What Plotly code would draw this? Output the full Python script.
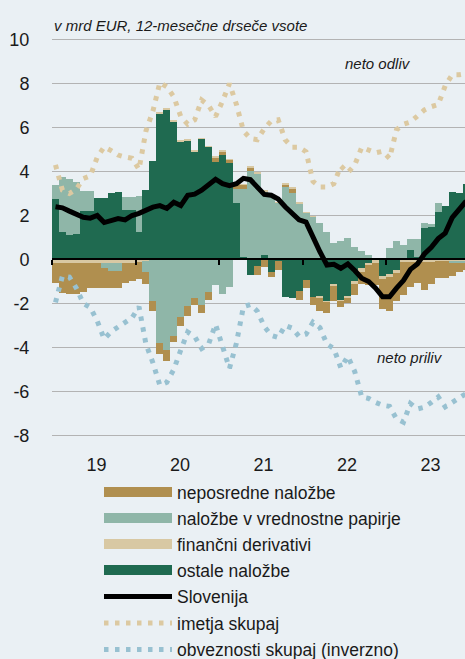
import plotly.graph_objects as go

# ---------------- data (12-month rolling sums, bn EUR) ----------------
months = [f"{y}-{m:02d}" for y in range(2019, 2024) for m in range(1, 13)]
year_labels = ["19", "20", "21", "22", "23"]
year_mid_idx = [5.9, 17.9, 29.9, 41.9, 53.9]
year_edge_idx = [-0.5, 11.5, 23.5, 35.5, 47.5]
y_ticks = [-8, -6, -4, -2, 0, 2, 4, 6, 8, 10]

direct = [-0.90, -1.33, -1.37, -1.40, -1.29, -1.13, -1.10, -0.90, -0.78, -0.78, -0.90, -0.81,
          -0.75, -0.55, -0.45, -0.50, -0.50, -0.25, -0.43, -0.46, -0.31, -0.40, -0.34, 0.23,
          0.12, 0.15, 0.20, 0.20, 0.15, -0.40, -0.32, -0.25, -0.38, 0.08, 0.20, -0.38,
          -0.35, -0.38, -0.60, -0.50, -0.70, -0.25, -0.25, -0.50, -0.55, -0.90, -1.00, -1.40,
          -1.55, -1.30, -1.50, -1.15, -0.95, -1.30, -1.00, -0.75, -0.75, -0.60, -0.40, -0.32]
portfolio = [0.68, 2.50, 2.53, 2.40, 0.93, 0.93, 0.00, -0.20, -0.35, -0.35, 0.60, 0.60,
             1.60, -0.50, -1.90, -3.80, -4.10, -3.50, -2.60, -2.12, -1.74, -2.05, -1.48, -1.16,
             -1.55, -1.25, 0.62, 3.10, 4.04, 3.92, 2.88, 2.89, 2.58, 3.34, 3.04, 2.55,
             2.13, 1.95, 1.67, 1.27, 0.77, 0.84, 0.96, 0.55, 0.40, 0.20, 0.05, 0.00,
             0.53, 0.83, 0.68, 0.50, 0.85, 0.23, 0.10, 0.43, 0.00, -0.10, -0.10, -0.10]
derivatives = [-0.18, -0.18, -0.18, -0.18, -0.18, -0.18, -0.18, -0.18, -0.18, -0.18, -0.15, -0.15,
               -0.12, -0.05, 0.00, 0.06, 0.04, 0.03, 0.03, 0.03, 0.03, 0.04, 0.04, 0.05,
               0.06, 0.03, 0.03, 0.02, 0.02, 0.02, 0.02, 0.02, 0.02, 0.03, 0.02, 0.02,
               0.02, 0.02, -0.05, -0.05, -0.10, -0.05, -0.05, -0.10, -0.15, -0.10, -0.15, -0.12,
               -0.12, -0.10, -0.12, -0.10, -0.10, -0.10, -0.10, -0.08, -0.08, -0.06, -0.06, -0.06]
other = [2.73, 1.25, 1.12, 1.14, 2.20, 2.20, 2.78, 2.78, 3.02, 3.05, 2.25, 2.25,
         1.27, 3.18, 4.50, 6.62, 6.82, 6.29, 5.38, 5.41, 4.92, 5.48, 5.12, 4.42,
         4.77, 4.39, 2.57, 0.10, -0.70, -0.30, 0.22, -0.55, -0.08, -1.70, -1.75, -1.45,
         -0.94, -1.70, -1.70, -1.90, -1.10, -1.85, -1.70, -1.00, -0.40, -0.15, 0.00, -0.75,
         -0.68, -0.50, 0.00, 0.43, 0.10, 1.44, 1.50, 2.15, 2.42, 3.08, 3.03, 3.45]
slovenia = [2.40, 2.35, 2.20, 2.05, 1.92, 1.88, 2.00, 1.68, 1.78, 1.86, 1.80, 2.00,
            2.10, 2.24, 2.38, 2.45, 2.32, 2.60, 2.45, 2.92, 2.97, 3.15, 3.38, 3.65,
            3.45, 3.36, 3.45, 3.69, 3.63, 3.30, 2.96, 2.92, 2.75, 2.40, 2.10, 1.80,
            1.70, 1.00, 0.35, -0.25, -0.22, -0.40, -0.20, -0.50, -0.85, -1.00, -1.30, -1.70,
            -1.70, -1.30, -0.95, -0.45, -0.20, 0.25, 0.55, 0.95, 1.20, 1.90, 2.30, 2.65]
assets = [4.30, 3.15, 3.00, 3.20, 3.68, 3.80, 4.65, 5.12, 4.95, 4.75, 4.66, 4.60,
          4.10, 5.85, 6.75, 8.05, 7.85, 7.40, 6.50, 6.15, 6.35, 7.25, 7.00, 6.50,
          7.20, 8.00, 7.05, 5.85, 5.50, 5.45, 5.95, 6.30, 6.35, 5.45, 5.10, 5.10,
          4.90, 3.55, 3.30, 3.30, 3.45, 4.25, 3.95, 4.30, 5.10, 5.00, 4.85, 4.92,
          4.60, 5.90, 6.15, 6.25, 6.50, 6.80, 6.95, 7.05, 7.90, 8.40, 8.40, 8.45]
liabilities_inv = [-1.95, -0.75, -0.80, -1.30, -2.00, -2.18, -2.80, -3.62, -3.28, -3.05, -2.85, -2.65,
                   -2.15, -3.85, -4.70, -5.72, -5.58, -5.00, -4.12, -3.30, -3.50, -4.05, -3.85, -2.95,
                   -3.95, -4.95, -3.80, -2.15, -2.05, -2.35, -3.05, -3.45, -3.55, -3.00, -3.12, -3.50,
                   -3.40, -2.85, -3.10, -3.85, -4.05, -4.93, -4.40, -5.10, -6.25, -6.32, -6.50, -6.63,
                   -6.68, -7.25, -7.40, -6.55, -6.80, -6.72, -6.50, -6.25, -6.70, -6.50, -6.25, -6.10]

# ---------------- style ----------------
BG = "#EAF0F4"
C_DIRECT = "#B08F4F"
C_PORT = "#8FB6A8"
C_DERIV = "#D8C8A3"
C_OTHER = "#1F6A50"
C_ASSETS = "#DCC9A1"
C_LIAB = "#98C1D1"
FONT = "Liberation Sans, Arial, sans-serif"
TXT = "#1a1a1a"

x = list(range(len(months)))
Y_MIN, Y_MAX = -8.3, 10.3
X_RANGE = [-0.5, 58.84]

def pos(v):
    return [a if a > 0 else None for a in v]

def neg(v):
    return [a if a < 0 else None for a in v]

fig = go.Figure()

bar_kw = dict(width=1.0, marker_line_width=0, showlegend=False, hoverinfo="skip")
# positive stack (from zero upward)
for vals, col in [(other, C_OTHER), (portfolio, C_PORT), (direct, C_DIRECT), (derivatives, C_DERIV)]:
    fig.add_trace(go.Bar(x=x, y=pos(vals), marker_color=col, **bar_kw))
# negative stack (from zero downward)
for vals, col in [(other, C_OTHER), (derivatives, C_DERIV), (portfolio, C_PORT), (direct, C_DIRECT)]:
    fig.add_trace(go.Bar(x=x, y=neg(vals), marker_color=col, **bar_kw))

# legend entries for bars (one legend each, to control spacing)
legend_names = ["neposredne naložbe", "naložbe v vrednostne papirje", "finančni derivativi", "ostale naložbe"]
legend_cols = [C_DIRECT, C_PORT, C_DERIV, C_OTHER]
for k, (nm, col) in enumerate(zip(legend_names, legend_cols)):
    fig.add_trace(go.Scatter(x=[None], y=[None], mode="lines", name=nm,
                             line=dict(color=col, width=10),
                             legend="legend" if k == 0 else f"legend{k+1}"))

dot = dict(width=5, dash="4.5px,6.5px")
fig.add_trace(go.Scatter(x=x, y=assets, mode="lines", name="imetja skupaj",
                         line=dict(color=C_ASSETS, **dot), legend="legend6", hoverinfo="skip"))
fig.add_trace(go.Scatter(x=x, y=liabilities_inv, mode="lines", name="obveznosti skupaj (inverzno)",
                         line=dict(color=C_LIAB, **dot), legend="legend7", hoverinfo="skip"))
fig.add_trace(go.Scatter(x=x, y=slovenia, mode="lines", name="Slovenija", xaxis="x2",
                         line=dict(color="black", width=5), legend="legend5", hoverinfo="skip"))

# geometry
L, T, B = 52, 33, 217
H = 659
plot_h = H - T - B

def py(px):
    return (H - B - px) / plot_h

def px_x(px):
    return (px - L) / (465 - L)

leg_y = [492, 518, 544, 570, 596.5, 623, 649.5]
legends = {}
for k, ly in enumerate(leg_y):
    key = "legend" if k == 0 else f"legend{k+1}"
    legends[key] = dict(x=px_x(99), xanchor="left", y=py(ly), yanchor="middle",
                        bgcolor="rgba(0,0,0,0)", borderwidth=0, itemwidth=68,
                        font=dict(family=FONT, size=17.5, color=TXT))

fig.update_layout(
    width=465, height=659,
    margin=dict(l=L, r=0, t=T, b=B, pad=0, autoexpand=False),
    paper_bgcolor=BG, plot_bgcolor=BG,
    barmode="relative", bargap=0,
    font=dict(family=FONT, size=17, color=TXT),
    xaxis=dict(range=X_RANGE, tickvals=year_mid_idx, ticktext=year_labels,
               ticks="outside", ticklen=6, tickcolor="rgba(0,0,0,0)",
               showgrid=False, zeroline=False, showline=False, fixedrange=True,
               tickfont=dict(size=18)),
    xaxis2=dict(range=X_RANGE, overlaying="x", anchor="free",
                position=(0 - Y_MIN) / (Y_MAX - Y_MIN), side="bottom",
                tickvals=year_edge_idx, ticks="outside", ticklen=5, tickwidth=1.5,
                tickcolor="black", showticklabels=False, showgrid=False, zeroline=False,
                showline=True, linecolor="black", linewidth=2, layer="above traces"),
    yaxis=dict(range=[Y_MIN, Y_MAX], tickvals=y_ticks, ticktext=[str(v) for v in y_ticks],
               ticks="outside", ticklen=18, tickcolor="rgba(0,0,0,0)",
               showgrid=True, gridcolor="#B3B3B3", gridwidth=1.3,
               zeroline=False, showline=False, tickfont=dict(size=18)),
    annotations=[
        dict(text="<i>v mrd EUR, 12-mesečne drseče vsote</i>", xref="paper", yref="paper",
             x=0, y=py(25.5), xanchor="left", yanchor="middle", showarrow=False,
             font=dict(family=FONT, size=15, color=TXT)),
        dict(text="<i>neto odliv</i>", xref="paper", yref="paper",
             x=px_x(378), y=py(64), xanchor="center", yanchor="middle", showarrow=False,
             font=dict(family=FONT, size=15, color=TXT)),
        dict(text="<i>neto priliv</i>", xref="paper", yref="paper",
             x=px_x(410), y=py(357), xanchor="center", yanchor="middle", showarrow=False,
             font=dict(family=FONT, size=15, color=TXT)),
    ],
    **legends,
)

fig.write_html("out.html",
               config={"displayModeBar": False},
               post_script=["document.body.style.margin='0px';"
                            f"document.body.style.background='{BG}';"])
